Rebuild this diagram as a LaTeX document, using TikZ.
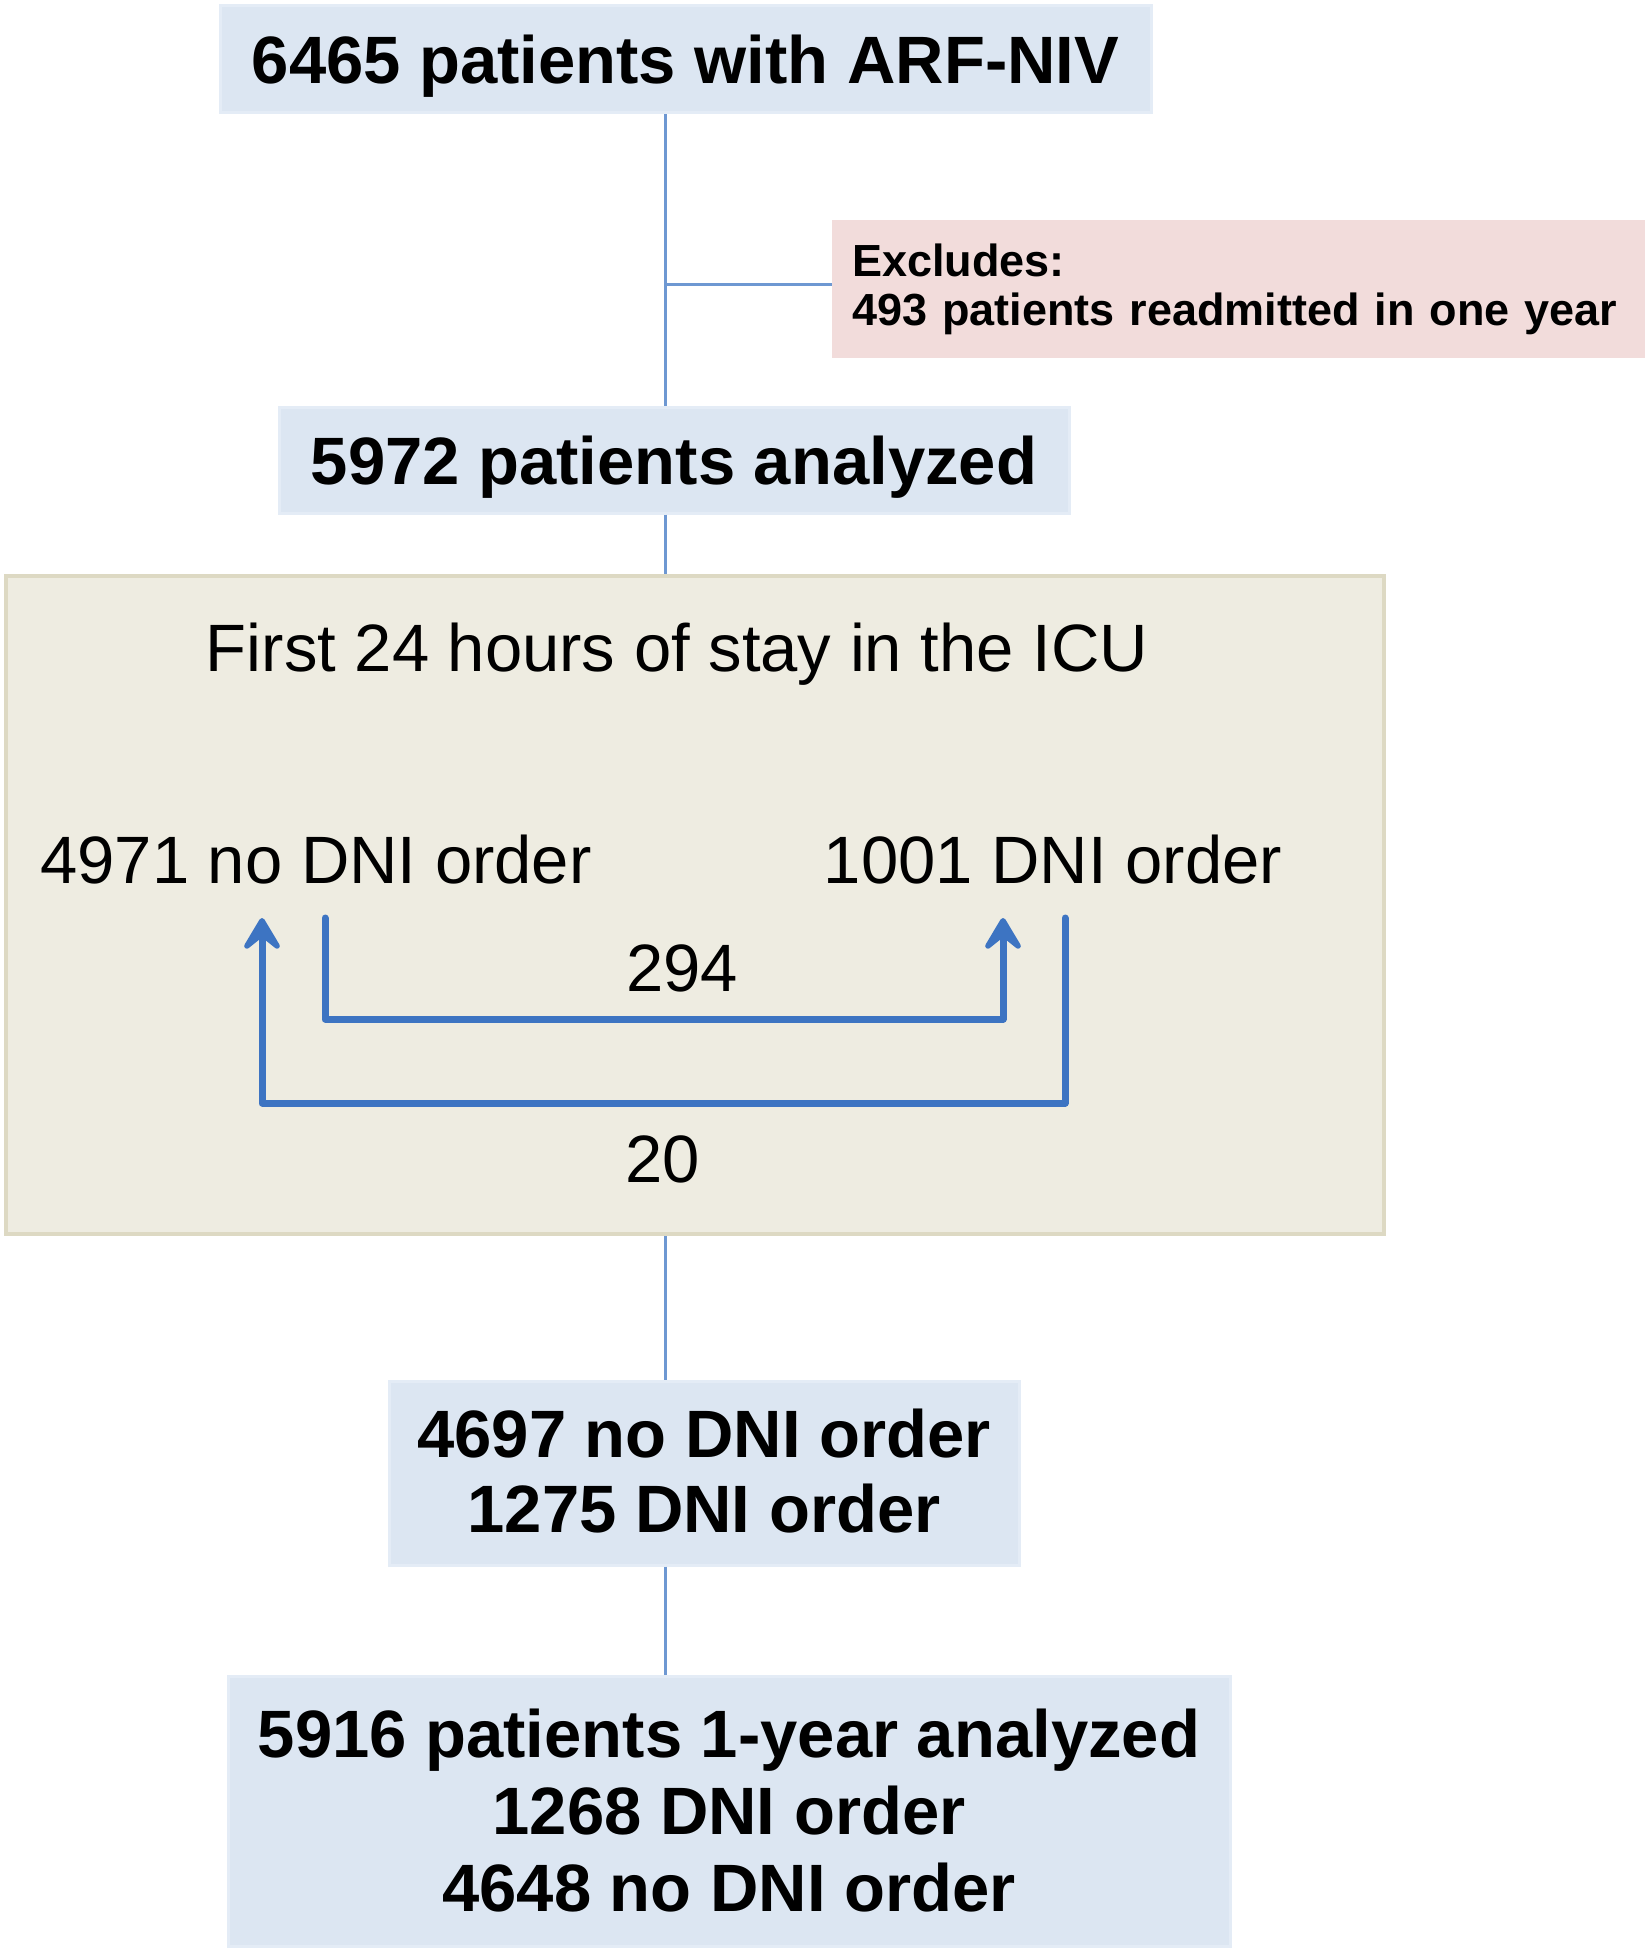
\documentclass[tikz,border=0pt]{standalone}
\usepackage{fontspec}
\setmainfont{Liberation Sans}
\usetikzlibrary{arrows.meta}
\definecolor{boxblue}{HTML}{DCE6F2}
\definecolor{boxblueedge}{HTML}{E4ECF6}
\definecolor{boxpink}{HTML}{F2DCDB}
\definecolor{beigefill}{HTML}{EEECE1}
\definecolor{beigeedge}{HTML}{DDD9C3}
\definecolor{connblue}{HTML}{6E98D2}
\definecolor{arrblue}{HTML}{3D74C2}
\tikzset{
  bluebox/.style={draw=boxblueedge, line width=1.5pt, fill=boxblue, inner sep=0pt, align=center,
    font=\fontsize{33.5}{37.5}\selectfont\bfseries},
  pinkbox/.style={fill=boxpink, inner sep=0pt, inner xsep=10pt, align=left,
    font=\fontsize{22.5}{24.5}\selectfont\bfseries},
  beigebox/.style={draw=beigeedge, line width=2pt, fill=beigefill, inner sep=0pt},
  plaintext/.style={inner sep=0pt, font=\fontsize{33.5}{37.5}\selectfont},
  conn/.style={draw=connblue, line width=1.5pt},
  flow/.style={draw=arrblue, line width=3.5pt, line join=round, line cap=round,
    -{Stealth[length=21pt, width=25pt, inset=10pt, round]}}
}
\begin{document}
\begin{tikzpicture}[x=0.5pt, y=-0.5pt]
\useasboundingbox (0,0) rectangle (1650,1953);
% boxes
\node[bluebox, minimum width=465.5pt, minimum height=53.5pt, text depth=0pt] (b1) at (685.5,59.5) {6465 patients with ARF-NIV};
\node[pinkbox, minimum height=69pt, text width=386.5pt] (ex) at (1238.5,289) {Excludes:\\493 patients readmitted in one year};
\node[bluebox, minimum width=395pt, minimum height=53pt, text depth=0pt] (b2) at (674,460) {5972 patients analyzed};
\node[beigebox, minimum width=689pt, minimum height=329pt] (icu) at (695,905) {};
\node[bluebox, minimum width=315pt, minimum height=92pt] (b3) at (704,1473) {\raisebox{2pt}{4697 no DNI order}\\\raisebox{2pt}{1275 DNI order}};
\node[bluebox, minimum width=501pt, minimum height=135pt, font=\fontsize{33.5}{38.5}\selectfont\bfseries] (b4) at (729,1811) {5916 patients 1-year analyzed\\1268 DNI order\\4648 no DNI order};
% texts inside ICU box
\node[plaintext] (icut) at (677,654) {First 24 hours of stay in the ICU};
\node[plaintext] (nodni) at (316,860) {4971 no DNI order};
\node[plaintext] (dni) at (1053,860) {1001 DNI order};
\node[plaintext] (l294) at (682,968) {294};
\node[plaintext] (l20) at (663,1159) {20};
% main line
\coordinate (mx) at (665,0);
\coordinate (jn) at (665,284);
\draw[conn] (b1.south -| mx) -- (b2.north -| mx);
\draw[conn] (jn) -- (jn -| ex.west);
\draw[conn] (b2.south -| mx) -- (icu.north -| mx);
\draw[conn] (icu.south -| mx) -- (b3.north -| mx);
\draw[conn] (b3.south -| mx) -- (b4.north -| mx);
% transfer arrows
\coordinate (s1) at (325,918);
\coordinate (e1) at (1003,918);
\coordinate (s2) at (1065,918);
\coordinate (e2) at (262,918);
\draw[flow] (s1) -- ++(0,101) -| (e1);
\draw[flow] (s2) -- ++(0,185) -| (e2);
\end{tikzpicture}
\end{document}
